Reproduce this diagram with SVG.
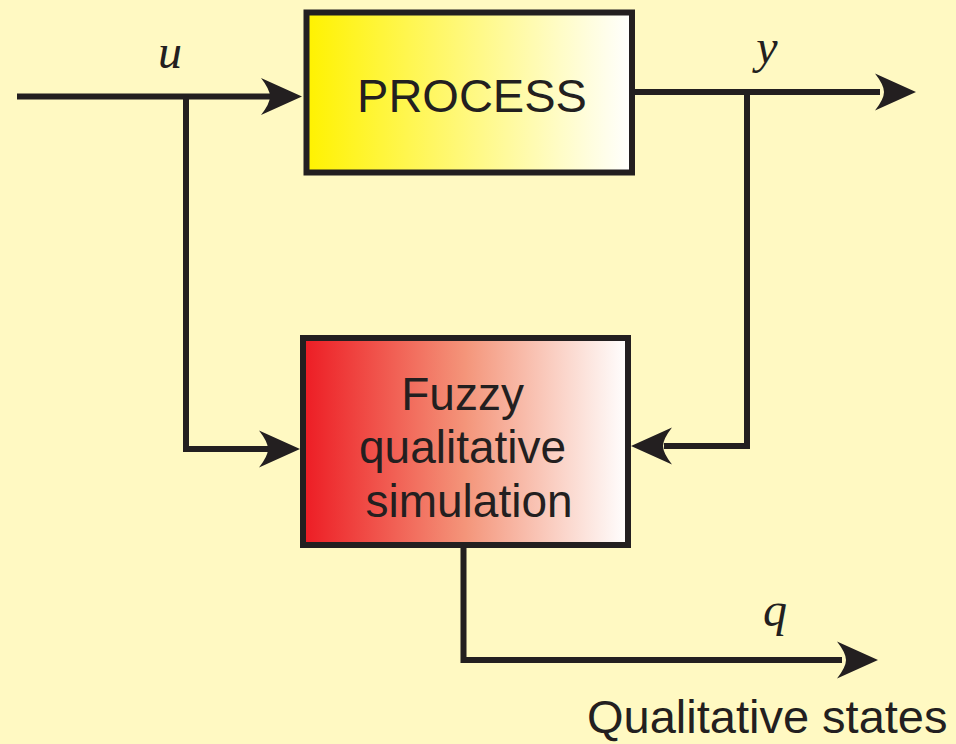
<svg xmlns="http://www.w3.org/2000/svg" width="956" height="744" viewBox="0 0 956 744">
  <style>
    .box { stroke: #231F20; stroke-width: 6; stroke-linejoin: miter; }
    .wire { fill: none; stroke: #231F20; stroke-width: 6; stroke-linejoin: miter; stroke-linecap: butt; }
    .head { fill: #231F20; }
    .label { font-family: "Liberation Sans", Arial, sans-serif; fill: #231F20; }
    .math { font-family: "Liberation Serif", "Times New Roman", serif; font-style: italic; fill: #231F20; font-size: 48px; }
  </style>
  <defs>
    <linearGradient id="yellowFade" x1="0" y1="0" x2="1" y2="0">
      <stop offset="0" stop-color="#FFF200"/>
      <stop offset="1" stop-color="#FFFFFF"/>
    </linearGradient>
    <linearGradient id="redFade" x1="0" y1="0" x2="1" y2="0">
      <stop offset="0" stop-color="#ED1C24"/>
      <stop offset="0.5" stop-color="#F4957A"/>
      <stop offset="1" stop-color="#FFFFFF"/>
    </linearGradient>
    <!-- arrowhead pointing right, tip at the origin -->
    <path id="arrowhead" d="M0,0 L-41,-18.5 Q-32,-7 -32,0 Q-32,7 -41,18.5 Z"/>
  </defs>

  <rect width="956" height="744" fill="#FFF9C2"/>

  <g id="connectors">
    <!-- u input and its branch -->
    <polyline class="wire" points="17,96.5 270,96.5"/>
    <polyline class="wire" points="186,96.5 186,449 268,449"/>
    <use href="#arrowhead" class="head" transform="translate(302,96.5)"/>
    <use href="#arrowhead" class="head" transform="translate(300,449)"/>
    <!-- y output and feedback -->
    <polyline class="wire" points="632,92 880,92"/>
    <polyline class="wire" points="747,92 747,446 664,446"/>
    <use href="#arrowhead" class="head" transform="translate(916,92)"/>
    <use href="#arrowhead" class="head" transform="translate(631,446) rotate(180)"/>
    <!-- q output -->
    <polyline class="wire" points="463.5,545 463.5,660 842,660"/>
    <use href="#arrowhead" class="head" transform="translate(878,660)"/>
  </g>

  <g id="process">
    <rect class="box" x="306.5" y="12.5" width="325.5" height="160" fill="url(#yellowFade)"/>
    <text class="label" x="472" y="112" font-size="47" text-anchor="middle">PROCESS</text>
  </g>

  <g id="fuzzy-simulation">
    <rect class="box" x="303" y="338" width="325" height="207" fill="url(#redFade)"/>
    <text class="label" font-size="46" text-anchor="middle">
      <tspan x="469" y="410">Fuzzy</tspan>
      <tspan x="469" y="463">qualitative</tspan>
      <tspan x="469" y="517">simulation</tspan>
    </text>
  </g>

  <g id="labels">
    <text class="math" x="170" y="68" text-anchor="middle">u</text>
    <text class="math" x="767" y="63" text-anchor="middle">y</text>
    <text class="math" x="775" y="626" text-anchor="middle">q</text>
    <text class="label" x="587" y="733" font-size="47">Qualitative states</text>
  </g>
</svg>
